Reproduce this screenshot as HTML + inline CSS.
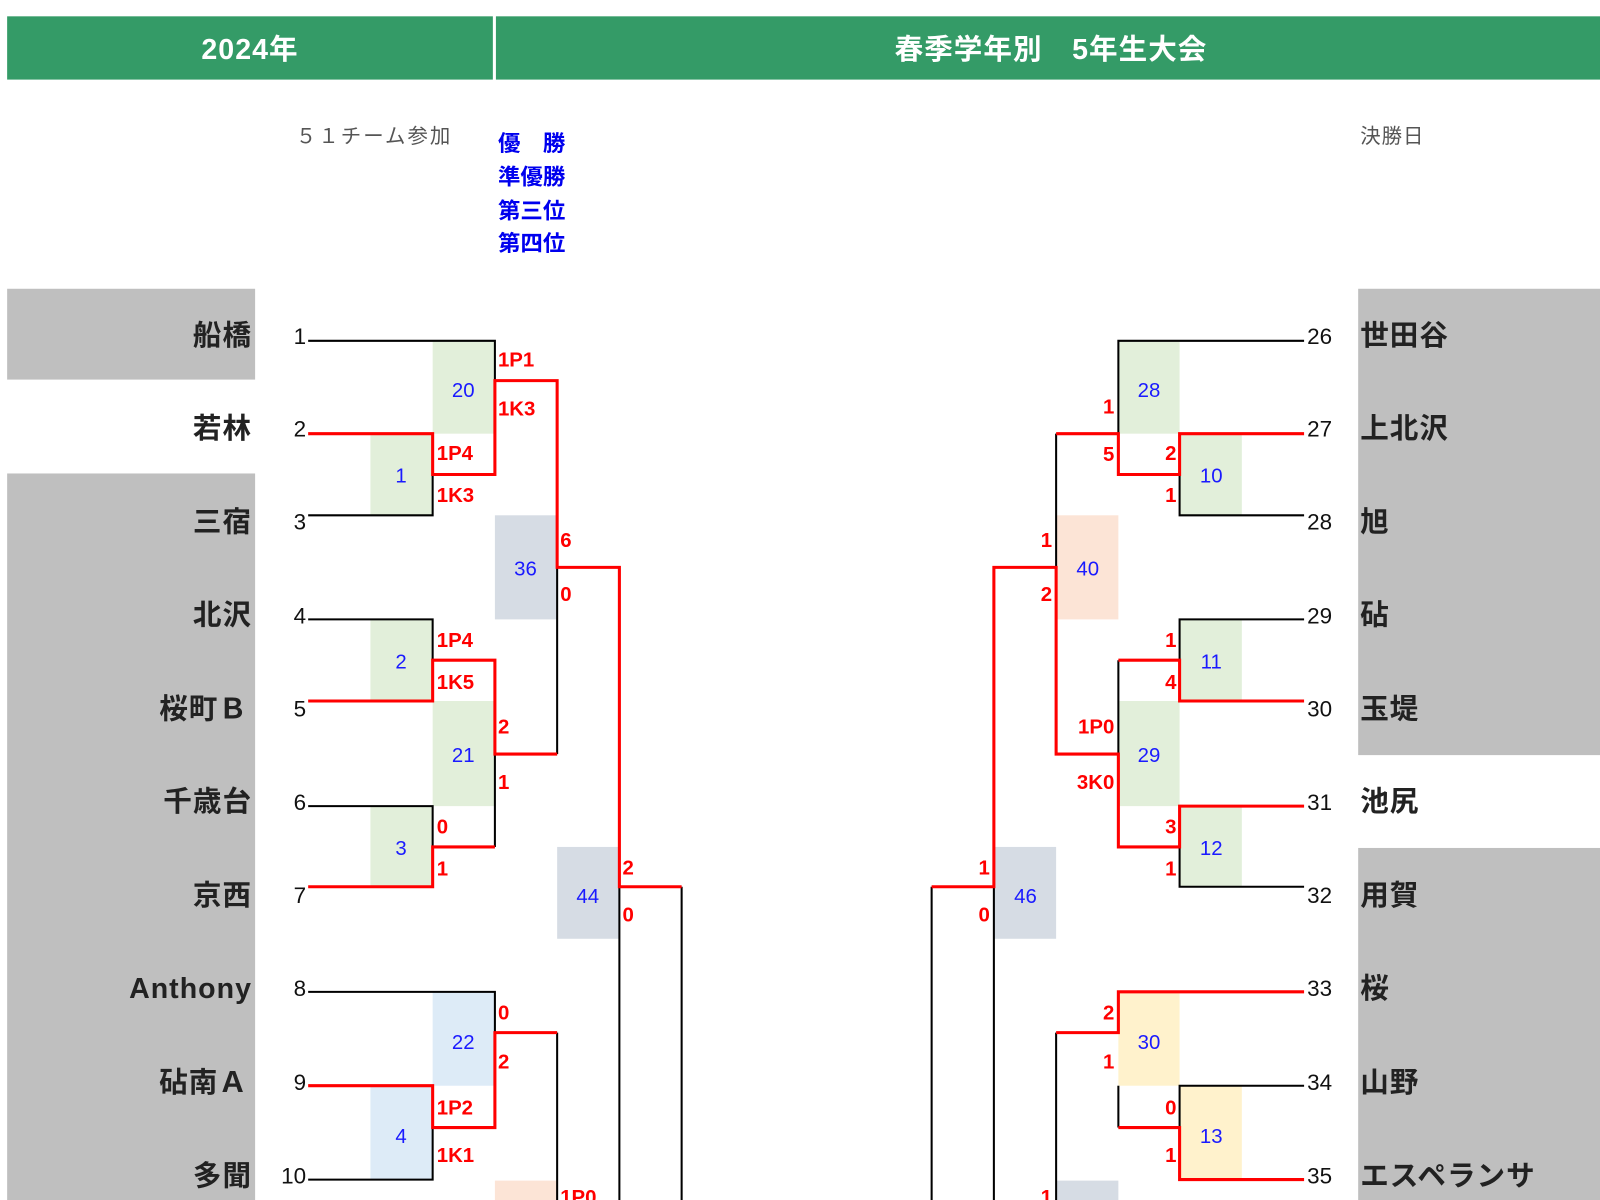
<!DOCTYPE html>
<html><head><meta charset="utf-8"><style>
html,body{margin:0;padding:0;background:#fff;}
svg{display:block;}
text{font-family:"Liberation Sans","Noto Sans CJK JP",sans-serif;}
.tn{font-size:28px;font-weight:bold;fill:#222;letter-spacing:1px;}
.nu{font-size:22px;fill:#111;}
.sc{font-size:20px;fill:#f00;font-weight:bold;}
.bx{font-size:20px;fill:#1a1aff;}
.k{stroke:#000;stroke-width:2;fill:none;}
.r{stroke:#f00;stroke-width:3;fill:none;}
</style></head><body>
<svg width="1600" height="1200" viewBox="0 0 1568 1176" xmlns="http://www.w3.org/2000/svg">
<rect x="7" y="16" width="476" height="62" fill="#349b67"/>
<rect x="486" y="16" width="1082" height="62" fill="#349b67"/>
<text x="245" y="58" text-anchor="middle" style="font-size:28px;font-weight:bold;fill:#fff;letter-spacing:1px">2024年</text>
<text x="1030" y="58" text-anchor="middle" style="font-size:28px;font-weight:bold;fill:#fff;letter-spacing:1px">春季学年別　5年生大会</text>
<text x="290" y="140" style="font-size:20px;fill:#555;letter-spacing:2px">５１チーム参加</text>
<text x="1333" y="140" style="font-size:20px;fill:#555;letter-spacing:1px">決勝日</text>
<g style="font-size:22px;font-weight:bold;fill:#0000ee">
<text x="488" y="148">優　勝</text><text x="488" y="181">準優勝</text><text x="488" y="214">第三位</text><text x="488" y="246">第四位</text></g>
<rect x="7" y="283" width="243" height="89" fill="#bfbfbf"/>
<rect x="7" y="464" width="243" height="712" fill="#bfbfbf"/>
<rect x="1331" y="283" width="237" height="457" fill="#bfbfbf"/>
<rect x="1331" y="831" width="237" height="345" fill="#bfbfbf"/>
<rect x="424" y="335" width="61" height="90" fill="#e2efda"/>
<rect x="363" y="425" width="61" height="80" fill="#e2efda"/>
<rect x="485" y="505" width="61" height="102" fill="#d6dce4"/>
<rect x="363" y="607" width="61" height="80" fill="#e2efda"/>
<rect x="424" y="687" width="61" height="103" fill="#e2efda"/>
<rect x="363" y="790" width="61" height="79" fill="#e2efda"/>
<rect x="546" y="830" width="61" height="90" fill="#d6dce4"/>
<rect x="424" y="972" width="61" height="92" fill="#ddebf7"/>
<rect x="363" y="1064" width="61" height="92" fill="#ddebf7"/>
<rect x="485" y="1157" width="61" height="19" fill="#fce4d6"/>
<rect x="1096" y="335" width="60" height="90" fill="#e2efda"/>
<rect x="1156" y="425" width="61" height="80" fill="#e2efda"/>
<rect x="1035" y="505" width="61" height="102" fill="#fce4d6"/>
<rect x="1156" y="607" width="61" height="80" fill="#e2efda"/>
<rect x="1096" y="687" width="60" height="103" fill="#e2efda"/>
<rect x="1156" y="790" width="61" height="79" fill="#e2efda"/>
<rect x="974" y="830" width="61" height="90" fill="#d6dce4"/>
<rect x="1096" y="972" width="60" height="92" fill="#fff2cc"/>
<rect x="1156" y="1064" width="61" height="92" fill="#fff2cc"/>
<rect x="1035" y="1157" width="61" height="19" fill="#d6dce4"/>
<g class="bx" text-anchor="middle">
<text x="454" y="389">20</text><text x="393" y="473">1</text><text x="515" y="564">36</text>
<text x="393" y="655">2</text><text x="454" y="747">21</text><text x="393" y="838">3</text>
<text x="576" y="885">44</text><text x="454" y="1028">22</text><text x="393" y="1120">4</text>
<text x="1126" y="389">28</text><text x="1187" y="473">10</text><text x="1066" y="564">40</text>
<text x="1187" y="655">11</text><text x="1126" y="747">29</text><text x="1187" y="838">12</text>
<text x="1005" y="885">46</text><text x="1126" y="1028">30</text><text x="1187" y="1120">13</text>
</g>
<g class="tn" text-anchor="end">
<text x="247" y="338">船橋</text><text x="247" y="429">若林</text><text x="247" y="521">三宿</text>
<text x="247" y="612">北沢</text><text x="243" y="704">桜町Ｂ</text><text x="247" y="795">千歳台</text>
<text x="247" y="887">京西</text><text x="247" y="978">Anthony</text><text x="243" y="1070">砧南Ａ</text>
<text x="247" y="1162">多聞</text></g>
<g class="nu" text-anchor="end">
<text x="300" y="337">1</text><text x="300" y="428">2</text><text x="300" y="519">3</text>
<text x="300" y="611">4</text><text x="300" y="702">5</text><text x="300" y="794">6</text>
<text x="300" y="885">7</text><text x="300" y="976">8</text><text x="300" y="1068">9</text>
<text x="300" y="1160">10</text></g>
<g class="tn">
<text x="1333" y="338">世田谷</text><text x="1333" y="429">上北沢</text><text x="1333" y="521">旭</text>
<text x="1333" y="612">砧</text><text x="1333" y="704">玉堤</text><text x="1333" y="795">池尻</text>
<text x="1333" y="887">用賀</text><text x="1333" y="978">桜</text><text x="1333" y="1070">山野</text>
<text x="1333" y="1162">エスペランサ</text></g>
<g class="nu">
<text x="1281" y="337">26</text><text x="1281" y="428">27</text><text x="1281" y="519">28</text>
<text x="1281" y="611">29</text><text x="1281" y="702">30</text><text x="1281" y="794">31</text>
<text x="1281" y="885">32</text><text x="1281" y="976">33</text><text x="1281" y="1068">34</text>
<text x="1281" y="1160">35</text></g>
<path class="k" d="M302 334H485V373"/>
<path class="k" d="M302 505H424V465"/>
<path class="k" d="M546 556V739"/>
<path class="k" d="M302 607H424V647"/>
<path class="k" d="M302 790H424V830"/>
<path class="k" d="M485 830V739"/>
<path class="k" d="M607 869V1176"/>
<path class="k" d="M668 869V1176"/>
<path class="k" d="M302 972H485V1012"/>
<path class="k" d="M546 1012V1176"/>
<path class="k" d="M302 1156H424V1105"/>
<path class="r" d="M302 425H424V465H485V373H546V556H607V869H668"/>
<path class="r" d="M302 687H424V647H485V739H546"/>
<path class="r" d="M302 869H424V830H485"/>
<path class="r" d="M302 1064H424V1105H485V1012H546"/>
<path class="k" d="M1278 334H1096V425"/>
<path class="k" d="M1278 505H1156V465"/>
<path class="k" d="M1035 425V556"/>
<path class="k" d="M1278 607H1156V647"/>
<path class="k" d="M1096 647V739"/>
<path class="k" d="M1278 869H1156V830"/>
<path class="k" d="M974 869V1176"/>
<path class="k" d="M913 869V1176"/>
<path class="k" d="M1035 1012V1176"/>
<path class="k" d="M1278 1064H1156V1105"/>
<path class="k" d="M1096 1064V1105"/>
<path class="r" d="M1278 425H1156V465H1096V425H1035"/>
<path class="r" d="M1278 687H1156V647H1096"/>
<path class="r" d="M1278 790H1156V830H1096V739H1035V556H974V869H913"/>
<path class="r" d="M1278 972H1096V1012H1035"/>
<path class="r" d="M1278 1156H1156V1105H1096"/>
<g class="sc">
<text x="488" y="359">1P1</text><text x="488" y="407">1K3</text>
<text x="428" y="451">1P4</text><text x="428" y="492">1K3</text>
<text x="549" y="536">6</text><text x="549" y="589">0</text>
<text x="428" y="634">1P4</text><text x="428" y="675">1K5</text>
<text x="488" y="719">2</text><text x="488" y="773">1</text>
<text x="428" y="817">0</text><text x="428" y="858">1</text>
<text x="610" y="857">2</text><text x="610" y="903">0</text>
<text x="488" y="999">0</text><text x="488" y="1047">2</text>
<text x="428" y="1092">1P2</text><text x="428" y="1139">1K1</text>
<text x="549" y="1180">1P0</text>
</g>
<g class="sc" text-anchor="end">
<text x="1092" y="405">1</text><text x="1092" y="452">5</text>
<text x="1153" y="451">2</text><text x="1153" y="492">1</text>
<text x="1031" y="536">1</text><text x="1031" y="589">2</text>
<text x="1153" y="634">1</text><text x="1153" y="675">4</text>
<text x="1092" y="719">1P0</text><text x="1092" y="773">3K0</text>
<text x="1153" y="817">3</text><text x="1153" y="858">1</text>
<text x="970" y="857">1</text><text x="970" y="903">0</text>
<text x="1092" y="999">2</text><text x="1092" y="1047">1</text>
<text x="1153" y="1092">0</text><text x="1153" y="1139">1</text>
<text x="1031" y="1180">1</text>
</g>
</svg>
</body></html>
